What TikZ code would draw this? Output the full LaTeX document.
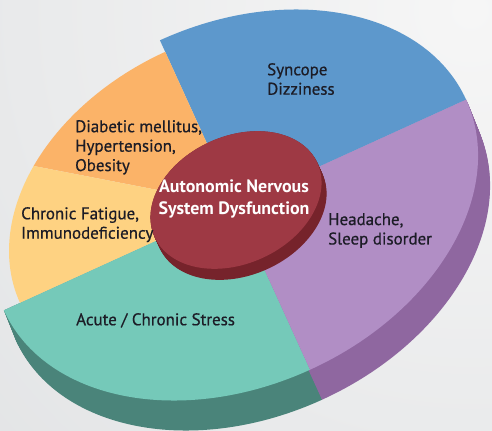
\documentclass[tikz,border=0pt]{standalone}
\usepackage{fontspec}
\setmainfont{PT Sans}
\definecolor{bgin}{HTML}{F6F6F6}
\definecolor{bgout}{HTML}{DCDEE0}
\definecolor{blueC}{HTML}{5D98CC}
\definecolor{orangeC}{HTML}{FBB368}
\definecolor{yellowC}{HTML}{FED282}
\definecolor{tealC}{HTML}{75C9B9}
\definecolor{tealD}{HTML}{4A847A}
\definecolor{purpleC}{HTML}{B18EC5}
\definecolor{purpleD}{HTML}{8F67A0}
\definecolor{redC}{HTML}{9E3944}
\definecolor{redD}{HTML}{76232B}
\definecolor{txt}{HTML}{1C1C26}
\newcommand{\piesector}[4]{\fill[#1] (0,0) -- (#2:#4) arc[start angle=#2, end angle=#3, radius=#4] -- cycle;}
\begin{document}
\begin{tikzpicture}[x=1bp,y=1bp,
  piegeo/.style={shift={(235,225)},rotate=24.5,xscale=254,yscale=181},
  coregeo/.style={shift={(236,230)},rotate=24.5,xscale=89.4,yscale=63.7},
  lbl/.style={inner sep=0pt,anchor=north west,align=left,text=txt,
    font=\fontsize{17}{19.5}\selectfont\addfontfeature{FakeBold=0.6}}]
\useasboundingbox (0,0) rectangle (492,430);
% background
\begin{scope}
  \clip (0,0) rectangle (492,430);
  \shade[inner color=bgin,outer color=bgout] (470,420) circle (900);
\end{scope}
% sides of the front sectors
\foreach \k in {0,...,30}{
  \begin{scope}[shift={({0.4*\k},{-\k})},piegeo]
    \piesector{tealD}{180}{270}{1}
    \piesector{purpleD}{270}{360}{1}
  \end{scope}
}
% top faces
\begin{scope}[piegeo]
  \piesector{blueC}{0}{90}{1}
  \piesector{orangeC}{90}{135}{0.93}
  \piesector{yellowC}{135}{180}{0.93}
  \piesector{tealC}{180}{270}{1}
  \piesector{purpleC}{270}{360}{1}
\end{scope}
% central cylinder
\foreach \k in {0,...,12}{
  \begin{scope}[shift={({0.42*\k},{-0.92*\k})},coregeo]
    \fill[redD] (0,0) circle (1);
  \end{scope}
}
\begin{scope}[coregeo]
  \fill[redC] (0,0) circle (1);
\end{scope}
% labels
\node[lbl] (syn) at (267,367) {Syncope\\Dizziness};
\node[lbl] (dia) at (75,310) {Diabetic mellitus,\\Hypertension,\\Obesity};
\node[lbl] (chr) at (21,223) {Chronic Fatigue,\\Immunodeficiency};
\node[lbl] (hea) at (328,217) {Headache,\\Sleep disorder};
\node[lbl] (acu) at (76,117) {Acute / Chronic Stress};
\node[inner sep=0pt,anchor=north,align=center,text=white,
  font=\fontsize{18}{22}\selectfont\bfseries] (ans) at (234,250)
  {Autonomic Nervous\\System Dysfunction};
\end{tikzpicture}
\end{document}
